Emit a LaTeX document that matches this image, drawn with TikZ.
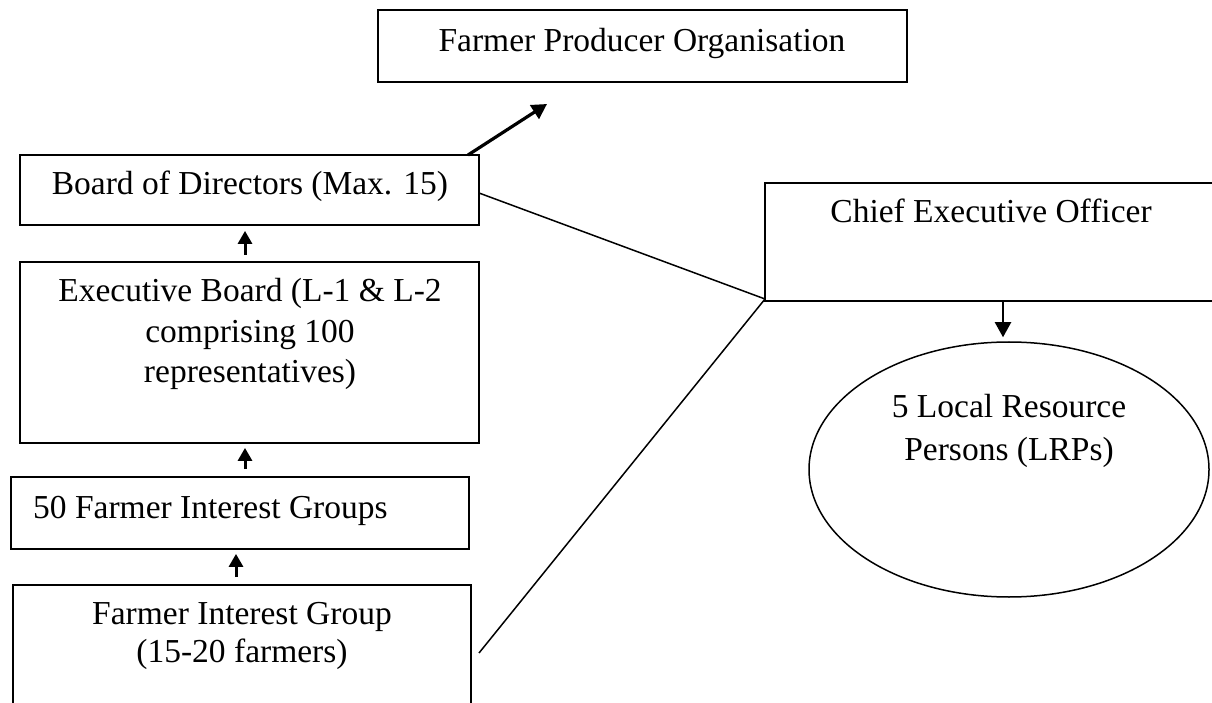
\documentclass[tikz,border=0pt]{standalone}
\usepackage{fontspec}
\setmainfont{Liberation Serif}
\usetikzlibrary{arrows.meta,shapes.geometric}
\tikzset{
  box/.style={draw=black, line width=1.8pt, rectangle, inner sep=0pt, fill=white},
  txt/.style={inner sep=0pt, anchor=base, font=\fontsize{33.5}{40}\selectfont},
  uparr/.style={line width=3pt, -{Triangle[length=13pt,width=14pt]}},
  bigarr/.style={line width=3.2pt, -{Triangle[length=15pt,width=16pt]}},
  conn/.style={line width=1.5pt}
}
\begin{document}
\begin{tikzpicture}[x=1pt,y=1pt]
\useasboundingbox (0,0) rectangle (1212,702);
% boxes
\node[box, minimum width=529pt, minimum height=72pt] (fpo) at (642.5,656) {};
\node[box, minimum width=459pt, minimum height=70pt] (bod) at (249.5,512) {};
\node[box, minimum width=459pt, minimum height=181pt] (exec) at (249.5,349.5) {};
\node[box, minimum width=458pt, minimum height=72pt] (fig50) at (240,189) {};
\node[box, minimum width=458pt, minimum height=130pt] (fig) at (242,52) {};
\node[box, minimum width=450pt, minimum height=118pt] (ceo) at (990,460) {};
\node[draw=black, line width=1.5pt, ellipse, minimum width=400pt, minimum height=255pt, inner sep=0pt] (lrp) at (1009,232.5) {};
% texts
\node[txt] (tfpo) at (642,650) {Farmer Producer Organisation};
\node[txt] (tbod) at (250,507) {Board of Directors (Max. 15)};
\node[txt] (texec1) at (250,400) {Executive Board (L-1 \& L-2};
\node[txt] (texec2) at (250,359.5) {comprising 100};
\node[txt] (texec3) at (250,319) {representatives)};
\node[txt, anchor=base west] (tfig50) at (33,184) {50 Farmer Interest Groups};
\node[txt] (tfig1) at (242,78) {Farmer Interest Group};
\node[txt] (tfig2) at (242,40) {(15-20 farmers)};
\node[txt] (tceo) at (991,479) {Chief Executive Officer};
\node[txt] (tlrp1) at (1009,284) {5 Local Resource};
\node[txt] (tlrp2) at (1009,242) {Persons (LRPs)};
% free ends
\coordinate (s1) at (468,547);
\coordinate (e1) at (547,598);
\coordinate (s2) at (245,447);
\coordinate (s3) at (245,233);
\coordinate (s4) at (236,125);
\coordinate (s5) at (1003,401);
\coordinate (j) at (765,403);
\coordinate (b1) at (479,509);
\coordinate (b2) at (479,49);
% connectors
\draw[bigarr] (s1) -- (e1);
\draw[uparr, shorten >=5pt] (s2) -- (s2 |- bod.south);
\draw[uparr, shorten >=4pt] (s3) -- (s3 |- exec.south);
\draw[uparr, shorten >=4pt] (s4) -- (s4 |- fig50.south);
\draw[line width=2pt, -{Triangle[length=15pt,width=16pt]}, shorten >=4pt] (s5) -- (s5 |- lrp.north);
\draw[conn] (b1) -- (j);
\draw[conn] (b2) -- (j);
\end{tikzpicture}
\end{document}
